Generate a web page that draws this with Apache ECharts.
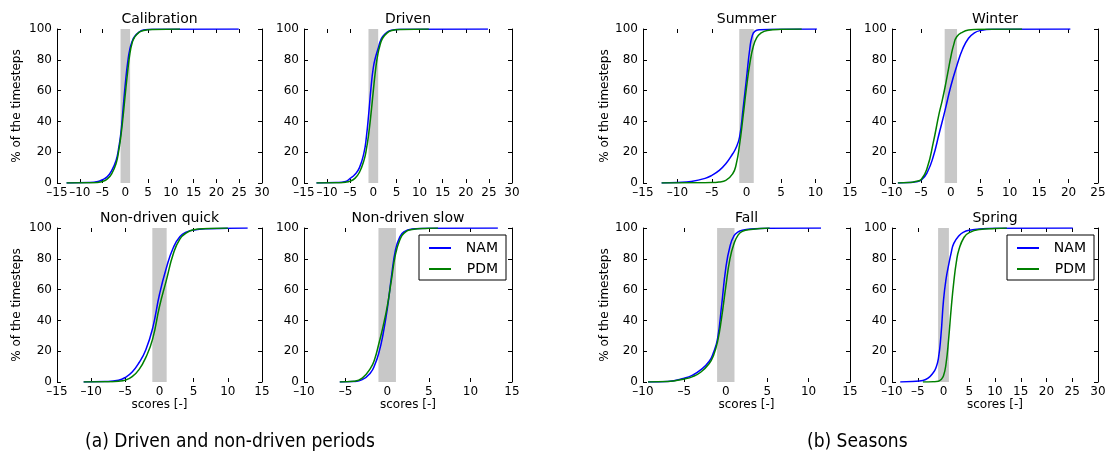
<!DOCTYPE html>
<html>
<head>
<meta charset="utf-8">
<script src="https://cdn.jsdelivr.net/npm/echarts@6.0.0/dist/echarts.min.js"></script>
<style>
    html, body { margin: 0; padding: 0; background: #fff; }
    #main { width: 1110px; height: 470px; }
</style>
</head>
<body>
<div id="main"></div>
<script>
    // 数据 (score, % of timesteps)
    var seriesNames = ['NAM', 'PDM'];
    var calNam = [[-12.9, 0], [-8, 0.3], [-6, 1], [-5, 2.2], [-4, 4], [-3, 8], [-2, 15], [-1.5, 22], [-1, 32], [-0.5, 48], [0, 64.5], [0.5, 78], [1, 87], [1.5, 92], [2, 95], [3, 98], [4, 99.3], [6, 99.8], [24.9, 100]];
    var calPdm = [[-12.9, 0], [-8, 0.1], [-6, 0.4], [-5, 1], [-4, 2.5], [-3, 6], [-2, 13], [-1.5, 20], [-1, 30], [-0.5, 43], [0, 58], [0.5, 72], [1, 84], [1.5, 91], [2, 94.5], [3, 97.8], [4, 99], [6, 99.7], [12, 100]];
    var drvNam = [[-12.3, 0], [-8, 0.3], [-6, 1], [-5, 3], [-4, 5.5], [-3, 10], [-2, 20], [-1.5, 30], [-1, 45], [-0.5, 62], [0, 75], [0.5, 82], [1, 87], [1.5, 92], [2, 95], [3, 98], [4, 99.2], [6, 99.8], [24.8, 100]];
    var drvPdm = [[-12.3, 0], [-8, 0.1], [-6, 0.5], [-5, 1.2], [-4, 3], [-3, 7], [-2, 15], [-1.5, 22], [-1, 32], [-0.5, 45], [0, 60], [0.5, 74], [1, 84], [1.5, 90], [2, 94], [3, 97.5], [4, 99], [6, 99.7], [12, 100]];
    var quickNam = [[-11.1, 0], [-8, 0.3], [-6, 1.2], [-5, 3], [-4, 6.5], [-3, 12.5], [-2, 21], [-1, 35], [0, 57], [1, 74], [2, 87], [3, 94.5], [4, 97.5], [5, 98.7], [7, 99.5], [10, 99.8], [12.9, 100]];
    var quickPdm = [[-11.1, 0], [-8, 0.1], [-6, 0.5], [-5, 1.2], [-4, 3.5], [-3, 8], [-2, 16], [-1, 28], [0, 49], [1, 66], [2, 83], [3, 93], [4, 97], [5, 98.8], [7, 99.6], [10, 100]];
    var slowNam = [[-5.7, 0], [-4, 0.3], [-3, 1.5], [-2, 6], [-1.5, 11], [-1, 19], [-0.5, 31], [0, 47], [0.5, 68], [1, 86], [1.5, 94], [2, 97.5], [3, 99.3], [5, 99.8], [13.3, 100]];
    var slowPdm = [[-5.7, 0], [-4, 0.5], [-3, 2.5], [-2, 9], [-1.5, 15], [-1, 25], [-0.5, 36], [0, 49], [0.5, 66], [1, 83], [1.5, 92], [2, 96.5], [3, 99], [5, 99.8], [6.1, 100]];
    var sumNam = [[-12.3, 0], [-10, 0.3], [-8, 1], [-6, 3], [-5, 5], [-4, 8], [-3, 12.5], [-2, 19], [-1.5, 23], [-1, 30], [-0.5, 48], [0, 68], [0.5, 88], [0.8, 95], [1.2, 98.5], [2, 99.5], [4, 99.9], [10.2, 100]];
    var sumPdm = [[-12.3, 0], [-8, 0.1], [-5, 0.3], [-4, 0.7], [-3, 1.7], [-2, 6], [-1.5, 12], [-1, 25], [-0.5, 43], [0, 62], [0.5, 78], [1, 89], [1.5, 94.5], [2, 97], [3, 99], [5, 99.8], [8, 100]];
    var winNam = [[-9, 0], [-7, 0.3], [-6, 0.8], [-5, 2], [-4, 7], [-3, 17], [-2, 32], [-1, 47], [0, 63], [1, 76], [2, 87], [3, 94], [4, 97.5], [5, 99], [7, 99.8], [20.3, 100]];
    var winPdm = [[-9, 0], [-7, 0.3], [-6, 1], [-5, 2.5], [-4, 10], [-3, 26], [-2, 45], [-1.5, 53], [-1, 62], [-0.5, 72], [0, 82], [0.5, 90], [1, 95], [2, 98], [3, 99.3], [5, 99.8], [12.1, 100]];
    var fallNam = [[-9.4, 0], [-7, 0.4], [-5, 2.5], [-4, 4.5], [-3, 8], [-2, 13.5], [-1.5, 19], [-1, 28], [-0.5, 50], [0, 74], [0.5, 88], [1, 95], [1.5, 97.5], [2, 98.5], [3, 99.3], [5, 99.8], [11.5, 100]];
    var fallPdm = [[-9.4, 0], [-7, 0.3], [-5, 2], [-4, 3.5], [-3, 6.5], [-2, 12], [-1.5, 17], [-1, 26], [-0.5, 42], [0, 62], [0.5, 80], [1, 90], [1.5, 95.5], [2, 97.8], [3, 99], [5.3, 100]];
    var sprNam = [[-8.4, 0], [-6, 0.3], [-4, 1], [-3, 2.5], [-2, 6], [-1.5, 9], [-1, 15], [-0.5, 30], [0, 53], [0.5, 67], [1, 76], [1.5, 84], [2, 90], [3, 95], [4, 97.5], [5, 98.5], [7, 99.4], [10, 99.8], [25.1, 100]];
    var sprPdm = [[-4, 0], [-2, 0.2], [-1, 0.5], [-0.5, 1.5], [0, 4], [0.5, 12], [1, 28], [1.5, 48], [2, 65], [2.5, 78], [3, 86], [4, 94], [5, 97], [7, 99], [10, 99.7], [12.3, 100]];

    // 灰色区间
    var band = [-1.05, 1.05];
    // x轴范围
    var xRanges = [[-15, 30], [-15, 30], [-15, 15], [-10, 15], [-15, 15], [-10, 25], [-10, 15], [-10, 30]];
    var titles = ['Calibration', 'Driven', 'Non-driven quick', 'Non-driven slow', 'Summer', 'Winter', 'Fall', 'Spring'];
    var namData = [calNam, drvNam, quickNam, slowNam, sumNam, winNam, fallNam, sprNam];
    var pdmData = [calPdm, drvPdm, quickPdm, slowPdm, sumPdm, winPdm, fallPdm, sprPdm];

    // 布局
    var lefts = [57, 304, 57, 304, 643, 892, 643, 892];
    var widths = [205, 208, 205, 208, 207, 206, 207, 206];
    var tops = [29, 29, 228, 228, 29, 29, 228, 228];
    var plotH = 154;
    var yNameGap = [34, 0, 34, 0, 31, 0, 31, 0];
    var hasXName = [false, false, true, true, false, false, true, true];

    var font = 'DejaVu Sans';
    // 负号用短横, 标签才不会互相挡住
    var tickFmt = function (v) {
        return v < 0 ? '\u2013' + (-v) : String(v);
    };
    var tick = { show: true, inside: true, length: 4, lineStyle: { color: '#000' } };

    var grid = [], xAxis = [], yAxis = [], series = [], graphic = [];
    for (var i = 0; i < 8; i++) {
        grid.push({ left: lefts[i], top: tops[i], width: widths[i], height: plotH });

        // 下方x轴
        xAxis.push({
            gridIndex: i, type: 'value', position: 'bottom',
            min: xRanges[i][0], max: xRanges[i][1], interval: 5,
            axisLine: { show: false, onZero: false },
            axisTick: tick,
            axisLabel: {
                color: '#000', fontFamily: font, fontSize: 12, margin: 4, formatter: tickFmt,
                showMinLabel: true, showMaxLabel: true, hideOverlap: false
            },
            splitLine: { show: false },
            name: hasXName[i] ? 'scores [-]' : '',
            nameLocation: 'middle', nameGap: 17,
            nameTextStyle: { color: '#000', fontFamily: font, fontSize: 12 }
        });
        // 上方x轴 (只有刻度)
        xAxis.push({
            gridIndex: i, type: 'value', position: 'top',
            min: xRanges[i][0], max: xRanges[i][1], interval: 5,
            axisLine: { show: false, onZero: false },
            axisTick: tick,
            axisLabel: { show: false },
            splitLine: { show: false }
        });
        // 左y轴
        yAxis.push({
            gridIndex: i, type: 'value', position: 'left',
            min: 0, max: 100, interval: 20,
            axisLine: { show: true, onZero: false, lineStyle: { color: '#000', width: 1 } },
            axisTick: tick,
            axisLabel: { color: '#000', fontFamily: font, fontSize: 12, margin: 5, showMinLabel: true, showMaxLabel: true },
            splitLine: { show: false },
            name: yNameGap[i] ? '% of the timesteps' : '',
            nameLocation: 'middle', nameRotate: 90, nameGap: yNameGap[i],
            nameTextStyle: { color: '#000', fontFamily: font, fontSize: 12 }
        });
        // 右y轴
        yAxis.push({
            gridIndex: i, type: 'value', position: 'right',
            min: 0, max: 100, interval: 20,
            axisLine: { show: true, onZero: false, lineStyle: { color: '#000', width: 1 } },
            axisTick: tick,
            axisLabel: { show: false },
            splitLine: { show: false }
        });

        series.push({
            name: 'NAM', type: 'line', xAxisIndex: 2 * i, yAxisIndex: 2 * i,
            data: namData[i], symbol: 'none', smooth: 0.5,
            lineStyle: { color: '#0000ff', width: 1.5 }, itemStyle: { color: '#0000ff' },
            markArea: {
                silent: true,
                itemStyle: { color: '#c8c8c8', opacity: 1 },
                data: [[{ xAxis: band[0] }, { xAxis: band[1] }]]
            }
        });
        series.push({
            name: 'PDM', type: 'line', xAxisIndex: 2 * i, yAxisIndex: 2 * i,
            data: pdmData[i], symbol: 'none', smooth: 0.5,
            lineStyle: { color: '#008000', width: 1.5 }, itemStyle: { color: '#008000' }
        });

        // 子图标题
        graphic.push({
            type: 'text', x: lefts[i] + widths[i] / 2, y: tops[i] - 10,
            style: { text: titles[i], fill: '#000', font: '14px ' + font, textAlign: 'center', textVerticalAlign: 'middle' }
        });
    }

    // 底部说明
    graphic.push({
        type: 'text', x: 85, y: 442,
        style: { text: '(a) Driven and non-driven periods', fill: '#000', font: '19px "Liberation Sans Narrow", "DejaVu Sans Condensed"', textVerticalAlign: 'middle' }
    });
    graphic.push({
        type: 'text', x: 807, y: 442,
        style: { text: '(b) Seasons', fill: '#000', font: '19px "Liberation Sans Narrow", "DejaVu Sans Condensed"', textVerticalAlign: 'middle' }
    });

    var legendBase = function (left) {
        return {
            data: seriesNames, orient: 'vertical', left: left, top: 235,
            icon: 'rect', itemWidth: 22, itemHeight: 2, itemGap: 5,
            padding: [5, 8, 3, 10],
            borderColor: '#000', borderWidth: 1, borderRadius: 0, backgroundColor: '#fff',
            selectedMode: false,
            formatter: function (name) {
                return '{t|' + name + '}';
            },
            textStyle: {
                color: '#000', fontFamily: font, fontSize: 14, lineHeight: 16,
                rich: { t: { width: 42, align: 'right', fontFamily: font, fontSize: 14, color: '#000' } }
            }
        };
    };

    var dom = document.getElementById('main');
    var myChart = echarts.init(dom);
    var option = {
        animation: false,
        backgroundColor: '#fff',
        legend: [legendBase(419), legendBase(1007)],
        grid: grid,
        xAxis: xAxis,
        yAxis: yAxis,
        series: series,
        graphic: graphic
    };
    myChart.setOption(option, true);
</script>
</body>
</html>
